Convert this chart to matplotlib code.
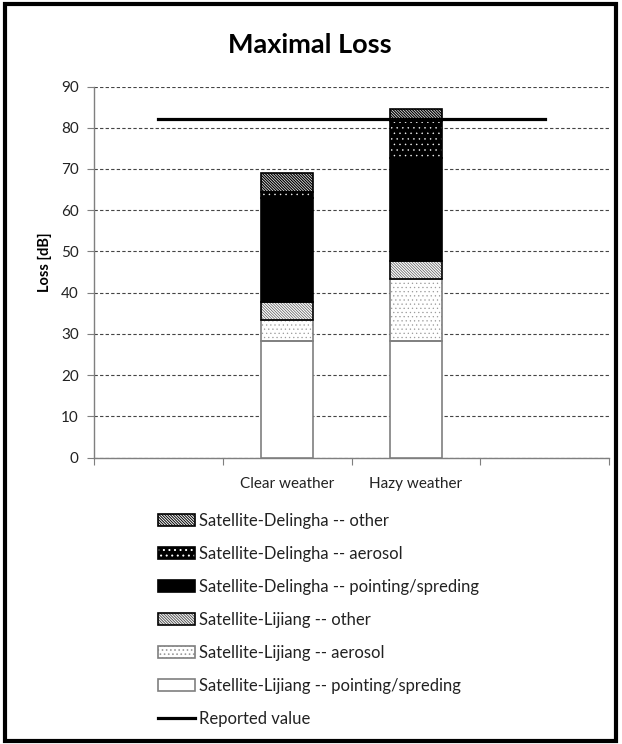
import matplotlib
matplotlib.use("Agg")
import matplotlib.pyplot as plt
from matplotlib.patches import Rectangle
from matplotlib.lines import Line2D
from matplotlib.legend_handler import HandlerTuple
import numpy as np

plt.rcParams['font.family'] = ['Lato', 'DejaVu Sans']

categories = ["", "Clear weather", "Hazy weather", ""]
bar_cats = [1, 2]  # indices of categories that carry bars
lij_pointing = [28.4, 28.4]
lij_aerosol = [4.9, 14.9]
lij_other = [4.5, 4.4]
del_pointing = [25.2, 24.9]
del_aerosol = [1.5, 9.0]
del_other = [4.5, 3.0]
reported = [82, 82, 82, 82]

series_labels = [
    "Satellite-Lijiang -- pointing/spreding",
    "Satellite-Lijiang -- aerosol",
    "Satellite-Lijiang -- other",
    "Satellite-Delingha -- pointing/spreding",
    "Satellite-Delingha -- aerosol",
    "Satellite-Delingha -- other",
]
yticks = list(range(0, 91, 10))

W, H = 622, 744
fig = plt.figure(figsize=(W / 100, H / 100), dpi=100)
ax = fig.add_axes([94 / W, 1 - 457.7 / H, (609 - 94) / W, (457.7 - 86.5) / H])

# styles: (face, hatch, hatchcolor, edge, hatch linewidth)
styles = [
    ("white", None, None, "#7f7f7f", 1.0),
    ("white", "....", "#9a9a9a", "#7f7f7f", 0.4),
    ("white", "\\" * 12, "#555555", "black", 0.5),
    ("black", None, None, "black", 1.0),
    ("black", "...", "white", "black", 0.3),
    ("white", "\\" * 12, "black", "black", 0.9),
]
series = [lij_pointing, lij_aerosol, lij_other, del_pointing, del_aerosol, del_other]


def set_hlw(p, lw):
    if hasattr(p, "set_hatch_linewidth"):
        p.set_hatch_linewidth(lw)


x = np.array(bar_cats, dtype=float)
bottom = np.zeros(len(x))
width = 0.4
handles = []
for vals, (fc, hatch, hc, ec, hlw) in zip(series, styles):
    vals = np.array(vals)
    plt.rcParams['hatch.linewidth'] = hlw
    if hatch:
        bc = ax.bar(x, vals, width, bottom=bottom, color=fc, edgecolor=hc,
                    hatch=hatch, linewidth=0, zorder=3)
        for p in bc:
            set_hlw(p, hlw)
        hp = Rectangle((0, 0), 1, 1, facecolor=fc, edgecolor=hc, hatch=hatch, linewidth=0)
        set_hlw(hp, hlw)
    else:
        hp = None
    ax.bar(x, vals, width, bottom=bottom, color=(fc if not hatch else "none"),
           edgecolor=ec, linewidth=1.2, zorder=4)
    op = Rectangle((0, 0), 1, 1, facecolor=(fc if not hatch else "none"),
                   edgecolor=ec, linewidth=1.2)
    handles.append((hp, op) if hp is not None else (op,))
    bottom = bottom + vals
plt.rcParams['hatch.linewidth'] = 0.7

# reported value line across category centres
ax.plot(np.arange(len(categories)), reported, color="black", lw=2.3, zorder=5)

ax.set_xlim(-0.5, len(categories) - 0.5)
ax.set_ylim(0, 90)
ax.set_yticks(yticks)
ax.set_yticklabels([str(v) for v in yticks], fontsize=11, color="#222222")
ax.yaxis.grid(True, linestyle=(0, (3, 2)), color="#444444", linewidth=0.8, zorder=0)
ax.set_axisbelow(True)

ax.set_xticks(np.arange(len(categories) + 1) - 0.5)
ax.set_xticklabels([])
ax.set_xticks(np.arange(len(categories)), minor=True)
ax.set_xticklabels(categories, minor=True, fontsize=11, color="#222222")
ax.tick_params(axis="x", which="minor", length=0, pad=14)
ax.tick_params(axis="x", which="major", length=5, color="#7f7f7f", direction="out")
ax.tick_params(axis="y", length=5, color="#7f7f7f", direction="out", pad=6)

for s in ["top", "right"]:
    ax.spines[s].set_visible(False)
for s in ["left", "bottom"]:
    ax.spines[s].set_color("#7f7f7f")
    ax.spines[s].set_linewidth(1.0)

fig.text(310 / W, 1 - 45 / H, "Maximal Loss", ha="center", va="center",
         fontsize=19.5, fontweight="bold")
fig.text(45 / W, 1 - 262 / H, "Loss [dB]", ha="center", va="center",
         rotation=90, fontsize=10.5, fontweight="bold")

leg_handles = handles[::-1] + [Line2D([0], [0], color="black", lw=2.3)]
leg_labels = series_labels[::-1] + ["Reported value"]
leg = fig.legend(leg_handles, leg_labels, loc="upper left",
                 bbox_to_anchor=(158 / W, 1 - 513 / H),
                 frameon=False, fontsize=12, handlelength=2.2, handleheight=0.7,
                 handletextpad=0.25, labelspacing=1.02, borderpad=0, borderaxespad=0,
                 handler_map={tuple: HandlerTuple(ndivide=1, pad=0)})
for t in leg.get_texts():
    t.set_color("#222222")

# outer frame
fig.patches.append(Rectangle((5 / W, 3 / H), 611 / W, 737 / H, transform=fig.transFigure,
                             fill=False, edgecolor="black", linewidth=3))

fig.savefig("out.png", dpi=100)
